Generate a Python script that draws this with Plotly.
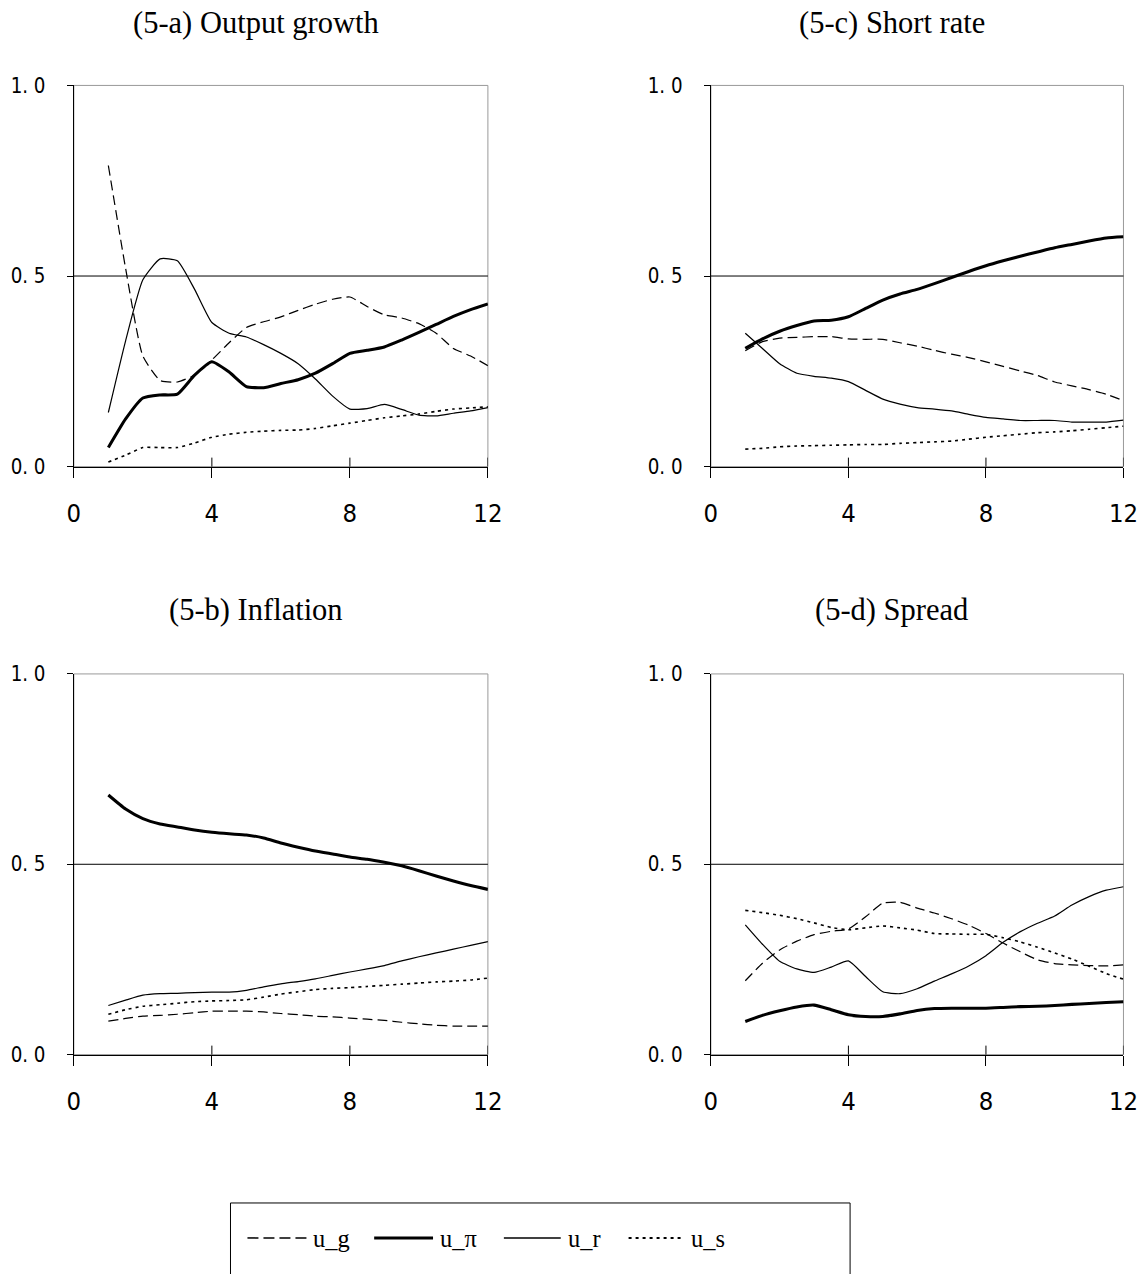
import plotly.graph_objects as go

W, H = 1144, 1274
# measured page-to-picture transform of the viewer (picture = S * page + O)
SX, OX = 0.983, 6.0
SY, OY = 0.982, 11.0

horizon = [1 + 0.5 * i for i in range(23)]
series_names = ["u_g", "u_π", "u_r", "u_s"]

# (5-a) Output growth
a_ug = [0.79, 0.52, 0.29, 0.226, 0.222, 0.24, 0.28, 0.325, 0.365, 0.38, 0.393, 0.41, 0.426, 0.439, 0.445, 0.42, 0.398, 0.39, 0.375, 0.35, 0.31, 0.29, 0.265]
a_upi = [0.05, 0.125, 0.18, 0.188, 0.19, 0.24, 0.275, 0.248, 0.21, 0.207, 0.218, 0.228, 0.245, 0.27, 0.297, 0.305, 0.314, 0.332, 0.352, 0.373, 0.394, 0.412, 0.427]
a_ur = [0.142, 0.33, 0.49, 0.545, 0.54, 0.465, 0.378, 0.35, 0.34, 0.32, 0.297, 0.27, 0.23, 0.185, 0.151, 0.152, 0.163, 0.15, 0.135, 0.133, 0.14, 0.146, 0.155]
a_us = [0.012, 0.03, 0.05, 0.05, 0.05, 0.062, 0.077, 0.085, 0.09, 0.093, 0.095, 0.096, 0.1, 0.107, 0.114, 0.121, 0.128, 0.133, 0.138, 0.145, 0.151, 0.154, 0.157]

# (5-c) Short rate
c_ug = [0.304, 0.328, 0.337, 0.339, 0.341, 0.341, 0.335, 0.334, 0.334, 0.325, 0.316, 0.305, 0.295, 0.286, 0.275, 0.263, 0.251, 0.239, 0.222, 0.212, 0.202, 0.19, 0.173]
c_upi = [0.31, 0.335, 0.355, 0.37, 0.382, 0.384, 0.393, 0.415, 0.437, 0.453, 0.465, 0.48, 0.496, 0.512, 0.527, 0.54, 0.552, 0.563, 0.574, 0.583, 0.592, 0.6, 0.603]
c_ur = [0.35, 0.31, 0.27, 0.245, 0.237, 0.232, 0.223, 0.2, 0.177, 0.164, 0.155, 0.151, 0.146, 0.137, 0.129, 0.125, 0.121, 0.121, 0.121, 0.117, 0.117, 0.117, 0.122]
c_us = [0.046, 0.048, 0.052, 0.054, 0.055, 0.056, 0.057, 0.058, 0.058, 0.061, 0.063, 0.065, 0.067, 0.072, 0.077, 0.081, 0.085, 0.089, 0.091, 0.094, 0.098, 0.102, 0.106]

# (5-b) Inflation
b_ug = [0.088, 0.095, 0.101, 0.103, 0.106, 0.11, 0.114, 0.114, 0.114, 0.112, 0.108, 0.105, 0.101, 0.099, 0.096, 0.093, 0.09, 0.085, 0.081, 0.077, 0.075, 0.075, 0.075]
b_upi = [0.682, 0.645, 0.62, 0.606, 0.598, 0.59, 0.584, 0.58, 0.577, 0.569, 0.556, 0.545, 0.535, 0.527, 0.519, 0.513, 0.505, 0.496, 0.483, 0.469, 0.456, 0.444, 0.434]
b_ur = [0.129, 0.143, 0.156, 0.16, 0.161, 0.163, 0.164, 0.164, 0.169, 0.178, 0.186, 0.192, 0.199, 0.208, 0.217, 0.225, 0.234, 0.246, 0.257, 0.267, 0.277, 0.287, 0.297]
b_us = [0.106, 0.118, 0.127, 0.131, 0.135, 0.139, 0.141, 0.142, 0.144, 0.151, 0.159, 0.165, 0.171, 0.174, 0.176, 0.179, 0.182, 0.185, 0.188, 0.191, 0.193, 0.196, 0.201]

# (5-d) Spread
d_ug = [0.194, 0.24, 0.275, 0.298, 0.315, 0.324, 0.33, 0.362, 0.398, 0.4, 0.385, 0.372, 0.357, 0.34, 0.318, 0.293, 0.27, 0.249, 0.239, 0.236, 0.234, 0.233, 0.236]
d_upi = [0.087, 0.103, 0.115, 0.125, 0.13, 0.118, 0.105, 0.1, 0.1, 0.107, 0.116, 0.121, 0.122, 0.122, 0.122, 0.124, 0.126, 0.127, 0.129, 0.132, 0.134, 0.137, 0.139]
d_ur = [0.341, 0.29, 0.245, 0.225, 0.216, 0.23, 0.246, 0.205, 0.165, 0.16, 0.173, 0.193, 0.212, 0.233, 0.26, 0.295, 0.323, 0.345, 0.364, 0.393, 0.415, 0.432, 0.441]
d_us = [0.379, 0.373, 0.366, 0.357, 0.346, 0.334, 0.328, 0.333, 0.338, 0.333, 0.327, 0.318, 0.317, 0.316, 0.316, 0.307, 0.296, 0.282, 0.267, 0.251, 0.232, 0.213, 0.198]

panel_titles = ["(5-a) Output growth", "(5-c) Short rate", "(5-b) Inflation", "(5-d) Spread"]
x_tickvals = [0, 4, 8, 12]
x_ticktext = ["0", "4", "8", "12"]
y_tickvals = [0, 0.5, 1.0]
y_ticktext = ["0. 0", "0. 5", "1. 0"]

panels = [
    [a_ug, a_upi, a_ur, a_us],
    [c_ug, c_upi, c_ur, c_us],
    [b_ug, b_upi, b_ur, b_us],
    [d_ug, d_upi, d_ur, d_us],
]

styles = [
    dict(width=1.2, dash="10px,5px"),
    dict(width=3.0, dash="solid"),
    dict(width=1.2, dash="solid"),
    dict(width=1.6, dash="3px,4px"),
]


def px(x):
    return ((x - OX) / SX) / W


def py(y):
    return 1 - ((y - OY) / SY) / H


def sz(v):
    return v / SX


# plot-area rectangles in target-picture pixels (left, right, top, bottom)
boxes = [
    (73, 488, 84.5, 466),
    (711.5, 1125, 84.5, 466),
    (73, 488, 673.5, 1054.5),
    (711.5, 1125, 673.5, 1054.5),
]
title_pos = [(256, 22), (893, 22), (256, 610), (893, 610)]

fig = go.Figure()
layout = dict(
    width=W, height=H,
    margin=dict(l=0, r=0, t=0, b=0),
    paper_bgcolor="white", plot_bgcolor="white",
    showlegend=False,
)
shapes = []
annotations = []

tick_font_x = dict(family="DejaVu Sans Condensed, Liberation Sans Narrow, Liberation Sans, sans-serif", size=sz(25), color="black")
tick_font_y = dict(family="DejaVu Sans Condensed, Liberation Sans Narrow, Liberation Sans, sans-serif", size=sz(20), color="black")

for i, (vals, box) in enumerate(zip(panels, boxes)):
    n = "" if i == 0 else str(i + 1)
    xa, ya = "x" + n, "y" + n
    l, r, t, b = box
    for name, v, st in zip(series_names, vals, styles):
        fig.add_trace(go.Scatter(
            x=horizon, y=v, mode="lines", name=name,
            line=dict(color="black", width=sz(st["width"]), dash=st["dash"], shape="spline", smoothing=0.5),
            xaxis=xa, yaxis=ya, hoverinfo="skip",
        ))
    layout["xaxis" + n] = dict(
        domain=[px(l), px(r)], anchor=ya, range=[0, 12],
        tickvals=x_tickvals, ticktext=x_ticktext,
        ticks="outside", ticklen=sz(10), tickwidth=1, tickcolor="black",
        showline=True, linecolor="black", linewidth=1.3,
        showgrid=False, zeroline=False, fixedrange=True,
        tickfont=tick_font_x, ticklabelstandoff=14,
    )
    layout["yaxis" + n] = dict(
        domain=[py(b), py(t)], anchor=xa, range=[0, 1.0],
        tickvals=y_tickvals, ticktext=y_ticktext,
        ticks="outside", ticklen=sz(6), tickwidth=1, tickcolor="black",
        showline=True, linecolor="black", linewidth=1.3,
        showgrid=False, zeroline=False, fixedrange=True,
        tickfont=tick_font_y, ticklabelstandoff=17,
    )
    shapes.append(dict(type="rect", xref=xa + " domain", yref=ya + " domain",
                       x0=0, x1=1, y0=0, y1=1, line=dict(color="#999999", width=1), layer="below"))
    shapes.append(dict(type="line", xref=xa + " domain", yref=ya,
                       x0=0, x1=1, y0=0.5, y1=0.5, line=dict(color="black", width=1), layer="below"))
    for tv in x_tickvals[1:]:
        shapes.append(dict(type="line", xref=xa, yref=ya + " domain",
                           x0=tv, x1=tv, y0=0, y1=9 / (b - t), line=dict(color="black", width=1)))
    tx, ty = title_pos[i]
    annotations.append(dict(text=panel_titles[i], xref="paper", yref="paper", x=px(tx), y=py(ty),
                            xanchor="center", yanchor="middle", showarrow=False,
                            font=dict(family="Liberation Serif, Times New Roman, serif", size=sz(30), color="black")))

# legend box
shapes.append(dict(type="rect", xref="paper", yref="paper", x0=px(230), x1=px(851), y0=py(1320), y1=py(1203),
                   line=dict(color="black", width=1), fillcolor="rgba(0,0,0,0)"))
legend_items = [(247, 308, 311), (374, 433, 438), (504, 561, 566), (629, 682, 690)]
leg_y = 1238
for (x0, x1, tx), name, st in zip(legend_items, series_names, styles):
    shapes.append(dict(type="line", xref="paper", yref="paper", x0=px(x0), x1=px(x1), y0=py(leg_y), y1=py(leg_y),
                       line=dict(color="black", width=sz(st["width"] + (0.3 if st["width"] < 2 else 0)),
                                 dash="11px,5px" if name == "u_g" else st["dash"])))
    annotations.append(dict(text=name, xref="paper", yref="paper", x=px(tx), y=py(leg_y + 1),
                            xanchor="left", yanchor="middle", showarrow=False,
                            font=dict(family="Liberation Serif, Times New Roman, serif", size=sz(24), color="black")))

layout["shapes"] = shapes
layout["annotations"] = annotations
fig.update_layout(**layout)
fig.write_html("out.html")
